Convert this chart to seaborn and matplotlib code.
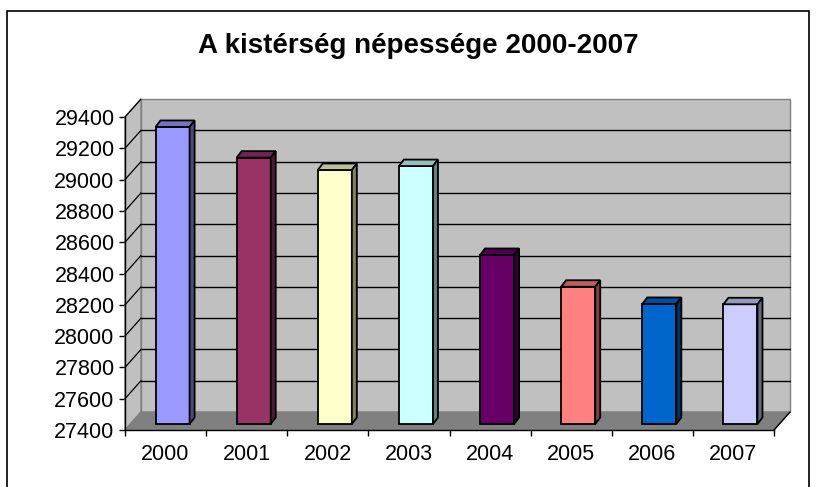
import numpy as np
import matplotlib
matplotlib.use('Agg')
import matplotlib.pyplot as plt
import matplotlib.colors as mcolors
from matplotlib.patches import Polygon, Rectangle
import seaborn as sns

# ---- data ----
years = ['2000', '2001', '2002', '2003', '2004', '2005', '2006', '2007']
population = [29298, 29102, 29023, 29048, 28480, 28277, 28167, 28165]
bar_colors = ['#9999FF', '#993366', '#FFFFCC', '#CCFFFF',
              '#660066', '#FF8080', '#0066CC', '#CCCCFF']
y_ticks = list(range(27400, 29401, 200))

Y0, Y1 = 27400, 29400

sns.set_style('white')
plt.rcParams['font.family'] = ['Liberation Sans', 'DejaVu Sans']
plt.rcParams['text.color'] = 'black'

fig = plt.figure(figsize=(8.16, 4.87), dpi=100)
ax = fig.add_axes([125 / 816, 57 / 487, 649 / 816, 313 / 487])
ax.set_facecolor('none')

# pixel -> data conversions (front plane of the box)
px_x = 8 / 649.0
px_y = (Y1 - Y0) / 313.0
DX, DY = 16 * px_x, 18 * px_y          # wall depth
BX, BY = 7 * px_x, 6 * px_y            # bar front face offset
BDX, BDY = 5 * px_x, 6.5 * px_y        # bar depth


def shade(c, f):
    r, g, b = mcolors.to_rgb(c)
    return (r * f, g * f, b * f)


# ---- walls and floor ----
xl, xr = -0.5, 7.5
ax.add_patch(Rectangle((xl + DX, Y0 + DY), xr - xl, Y1 - Y0, facecolor='#c0c0c0',
                       edgecolor='#808080', lw=1, zorder=0.5, clip_on=False))
ax.add_patch(Polygon([(xl, Y0), (xl, Y1), (xl + DX, Y1 + DY), (xl + DX, Y0 + DY)],
                     closed=True, facecolor='#c0c0c0', edgecolor='#808080',
                     lw=1, zorder=0.6, clip_on=False))
ax.add_patch(Polygon([(xl, Y0), (xr, Y0), (xr + DX, Y0 + DY), (xl + DX, Y0 + DY)],
                     closed=True, facecolor='#808080', edgecolor='#808080',
                     lw=1, zorder=0.7, clip_on=False))
for t in y_ticks[1:-1]:
    ax.plot([xl + DX, xr + DX], [t + DY, t + DY], color='black', lw=1,
            zorder=0.8, clip_on=False)
for t in y_ticks[1:]:
    ax.plot([xl, xl + DX], [t, t + DY], color='black', lw=0.9,
            zorder=0.8, clip_on=False)
ax.plot([xr, xr + DX], [Y0, Y0 + DY], color='black', lw=1, zorder=0.9, clip_on=False)

# ---- bars ----
sns.barplot(x=years, y=population, hue=years, palette=bar_colors, legend=False,
            width=0.42, edgecolor='black', linewidth=1.3, saturation=1, ax=ax)

bars = [p for p in ax.patches if isinstance(p, Rectangle) and p.get_width() < 1
        and p.get_height() > 20000]
for p, c in zip(bars, bar_colors):
    top = p.get_height()
    x0 = p.get_x() + BX
    w = p.get_width()
    p.set_x(x0)
    p.set_y(Y0 + BY)
    p.set_height(top - Y0)
    p.set_zorder(3)
    p.set_clip_on(False)
    yt = top + BY
    x1 = x0 + w
    # top and side faces
    ax.add_patch(Polygon([(x0, yt), (x1, yt), (x1 + BDX, yt + BDY), (x0 + BDX, yt + BDY)],
                         closed=True, facecolor=shade(c, 0.75), edgecolor='black',
                         lw=1.3, zorder=3, clip_on=False))
    ax.add_patch(Polygon([(x1, Y0 + BY), (x1, yt), (x1 + BDX, yt + BDY), (x1 + BDX, Y0 + BY + BDY)],
                         closed=True, facecolor=shade(c, 0.5), edgecolor='black',
                         lw=1.3, zorder=3, clip_on=False))

# ---- axes ----
ax.set_xlim(xl, xr)
ax.set_ylim(Y0, Y1)
ax.set_yticks(y_ticks)
ax.set_xticks(range(len(years)))
ax.set_xticklabels(years)
ax.set_xticks(np.arange(-0.5, 8, 1), minor=True)
ax.set_xlabel('')
ax.set_ylabel('')
for s in ['top', 'right']:
    ax.spines[s].set_visible(False)
for s in ['left', 'bottom']:
    ax.spines[s].set_color('black')
    ax.spines[s].set_linewidth(1)
    ax.spines[s].set_zorder(5)
ax.tick_params(axis='y', direction='out', length=4, width=1, pad=3.5,
               labelsize=15.5, colors='black', left=True)
ax.tick_params(axis='x', which='major', length=0, pad=10, labelsize=15.5, colors='black')
ax.tick_params(axis='x', which='minor', direction='out', length=4, width=1,
               color='black', bottom=True)

fig.text(418 / 816, 1 - 53 / 487, 'A kistérség népessége 2000-2007',
         ha='center', va='baseline', fontsize=20, fontweight='bold', color='black')

# chart frame
fig.add_artist(Rectangle((7 / 816, -0.05), 802 / 816, 1.05 - 11 / 487,
                         transform=fig.transFigure, fill=False,
                         edgecolor='black', lw=1.2))

fig.savefig('out.png', dpi=100)
